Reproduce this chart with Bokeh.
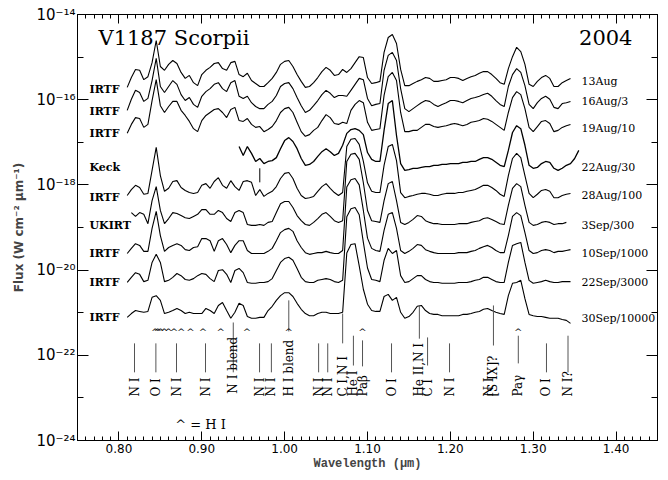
import math
import numpy as np
from bokeh.plotting import figure
from bokeh.models import (Range1d, FixedTicker, LinearAxis, LogAxis, CustomJSTickFormatter,
                          PrintfTickFormatter, Label)
from bokeh.core.properties import value
from bokeh.embed import file_html
from bokeh.resources import INLINE

nan = float("nan")

# ---------------- data ----------------
# sampling grid of the spectra (micron)
wavelength_um = np.round(0.810 + 0.005 * np.arange(110), 3)   # 0.810 ... 1.355

# log10 of the plotted (scaled) flux, W cm^-2 um^-1
log_flux_13aug = [
    -15.71, -15.48, -15.29, -15.31, -15.53, -15.46, -15.13, -14.61, -15.22, -15.31,
    -15.17, -15.08, -15.15, -15.36, -15.50, -15.43, -15.60, -15.67, -15.41, -15.31,
    -15.24, -15.15, -15.13, -15.27, -15.31, -15.13, -15.10, -15.41, -15.46, -15.38,
    -15.55, -15.62, -15.69, -15.69, -15.60, -15.50, -15.36, -15.17, -15.10, -15.08,
    -15.22, -15.41, -15.57, -15.71, -15.69, -15.60, -15.48, -15.34, -15.24, -15.31,
    -15.43, -15.41, -15.29, -15.36, -15.27, -15.13, -14.99, -15.01, -15.48, -15.62,
    -15.60, -15.57, -14.89, -14.54, -14.47, -14.68, -15.29, -15.67, -15.67, -15.62,
    -15.57, -15.53, -15.48, -15.50, -15.57, -15.57, -15.55, -15.53, -15.48, -15.48,
    -15.50, -15.55, -15.50, -15.46, -15.43, -15.38, -15.34, -15.34, -15.41, -15.50,
    -15.60, -15.64, -15.27, -14.99, -14.77, -14.87, -15.17, -15.64, -15.69, -15.57,
    -15.48, -15.43, -15.50, -15.69, -15.69, -15.60, -15.55, -15.50, nan, nan]

log_flux_16aug_div3 = [
    -16.25, -15.99, -15.78, -15.83, -16.04, -15.97, -15.55, -15.03, -15.69, -15.83,
    -15.69, -15.55, -15.64, -15.88, -16.02, -15.95, -16.11, -16.18, -15.92, -15.81,
    -15.74, -15.64, -15.60, -15.74, -15.81, -15.60, -15.55, -15.92, -15.97, -15.92,
    -16.07, -16.16, -16.21, -16.21, -16.11, -16.04, -15.90, -15.69, -15.62, -15.60,
    -15.74, -15.95, -16.14, -16.30, -16.25, -16.14, -16.02, -15.88, -15.78, -15.85,
    -15.95, -15.90, -15.90, -15.92, -15.78, -15.64, -15.50, -15.53, -15.97, -16.14,
    -16.11, -16.09, -15.31, -14.96, -14.89, -15.08, -15.74, -16.21, -16.28, -16.21,
    -16.14, -16.07, -16.02, -16.04, -16.11, -16.16, -16.11, -16.07, -16.02, -16.02,
    -16.04, -16.07, -16.02, -15.97, -15.95, -15.92, -15.88, -15.85, -15.92, -16.02,
    -16.11, -16.16, -15.69, -15.41, -15.27, -15.36, -15.67, -16.11, -16.21, -16.07,
    -15.97, -15.92, -15.99, -16.18, -16.21, -16.09, -16.07, -16.04, nan, nan]

log_flux_19aug_div10 = [
    -16.79, -16.58, -16.42, -16.44, -16.65, -16.58, -16.02, -15.53, -16.14, -16.30,
    -16.16, -16.04, -16.04, -16.25, -16.37, -16.51, -16.68, -16.75, -16.49, -16.37,
    -16.30, -16.23, -16.21, -16.30, -16.42, -16.23, -16.18, -16.49, -16.51, -16.44,
    -16.58, -16.65, -16.63, -16.75, -16.70, -16.63, -16.49, -16.30, -16.21, -16.18,
    -16.30, -16.53, -16.75, -16.86, -16.82, -16.72, -16.65, -16.49, -16.35, -16.42,
    -16.56, -16.58, -16.53, -16.56, -16.25, -16.11, -16.02, -16.07, -16.53, -16.72,
    -16.70, -16.68, -15.90, -15.46, -15.36, -15.55, -16.30, -16.75, -16.75, -16.72,
    -16.72, -16.65, -16.58, -16.58, -16.63, -16.65, -16.63, -16.61, -16.58, -16.56,
    -16.58, -16.61, -16.58, -16.53, -16.51, -16.49, -16.44, -16.46, -16.51, -16.58,
    -16.65, -16.72, -16.30, -15.95, -15.81, -15.88, -16.21, -16.65, -16.75, -16.63,
    -16.51, -16.49, -16.56, -16.75, -16.72, -16.65, -16.61, -16.58, nan, nan]

log_flux_22aug_div30 = [
    nan, nan, nan, nan, nan, nan, nan, nan, nan, nan,
    nan, nan, nan, nan, nan, nan, nan, nan, nan, nan,
    nan, nan, nan, nan, nan, nan, nan, -17.10, -17.31, -17.10,
    -17.26, -17.45, -17.38, -17.50, -17.45, -17.43, -17.36, -17.15, -16.96, -16.89,
    -16.98, -17.15, -17.38, -17.54, -17.52, -17.45, -17.33, -17.22, -17.15, -17.22,
    -17.31, -17.26, -17.07, -16.79, -16.70, -16.68, -16.72, -16.82, -17.24, -17.40,
    -17.45, -17.45, -16.72, -16.09, -16.02, -16.84, -17.50, -17.66, -17.64, -17.61,
    -17.61, -17.59, -17.57, -17.57, -17.54, -17.54, -17.52, -17.52, -17.50, -17.50,
    -17.50, -17.47, -17.47, -17.45, -17.45, -17.40, -17.36, -17.36, -17.40, -17.47,
    -17.54, -17.57, -17.19, -16.77, -16.61, -16.68, -17.07, -17.54, -17.61, -17.59,
    -17.50, -17.45, -17.47, -17.61, -17.66, -17.61, -17.54, -17.50, -17.38, -17.19]

log_flux_28aug_div100 = [
    -18.25, -18.11, -18.01, -18.06, -18.22, -18.20, -17.66, -17.12, -17.78, -18.15,
    -18.08, -17.92, -17.90, -18.06, -18.13, -18.18, -18.20, -18.18, -18.01, -17.97,
    -18.08, -17.92, -17.83, -18.01, -18.08, -17.90, -18.04, -18.13, -17.92, -17.90,
    -17.94, -18.25, -18.11, -18.27, -18.20, -18.15, -18.04, -17.85, -17.73, -17.71,
    -17.85, -18.08, -18.25, -18.32, -18.30, -18.27, -18.15, -18.04, -17.97, -18.08,
    -18.18, -18.25, -18.18, -17.10, -16.93, -16.91, -17.05, -17.45, -17.95, -18.15,
    -18.18, -18.18, -17.54, -17.10, -17.05, -17.43, -18.18, -18.30, -18.27, -18.25,
    -18.22, -18.20, -18.20, -18.22, -18.25, -18.25, -18.22, -18.20, -18.20, -18.20,
    -18.18, -18.18, -18.15, -18.13, -18.11, -18.06, -18.01, -18.01, -18.06, -18.13,
    -18.22, -18.27, -17.78, -17.38, -17.26, -17.36, -17.78, -18.20, -18.30, -18.22,
    -18.13, -18.11, -18.15, -18.30, -18.30, -18.25, -18.22, -18.20, nan, nan]

log_flux_3sep_div300 = [
    nan, -18.65, -18.74, -18.65, -18.69, -18.91, -18.37, -18.04, -18.60, -18.91,
    -18.79, -18.65, -18.67, -18.72, -18.77, -18.79, -18.74, -18.69, -18.58, -18.58,
    -18.69, -18.69, -18.60, -18.65, -18.79, -18.86, -18.65, -18.60, -18.65, -18.93,
    -18.95, -18.95, -18.93, -18.95, -18.88, -18.86, -18.65, -18.44, -18.39, -18.39,
    -18.53, -18.72, -18.84, -18.93, -18.95, -18.88, -18.79, -18.69, -18.65, -18.74,
    -18.84, -18.88, -18.84, -17.45, -17.28, -17.26, -17.40, -17.95, -18.60, -18.84,
    -18.86, -18.88, -18.37, -17.97, -17.92, -18.37, -18.88, -18.93, -18.88, -18.81,
    -18.72, -18.74, -18.84, -18.88, -18.91, -18.91, -18.93, -18.93, -18.93, -18.93,
    -18.91, -18.91, -18.91, -18.88, -18.86, -18.84, -18.79, -18.77, -18.81, -18.86,
    -18.91, -18.93, -18.48, -18.08, -17.97, -18.04, -18.48, -18.88, -18.95, -18.93,
    -18.88, -18.86, -18.88, -18.93, -18.91, -18.91, -18.88, nan, nan, nan]

log_flux_10sep_div1000 = [
    -19.61, -19.49, -19.38, -19.42, -19.56, -19.56, -19.02, -18.62, -19.19, -19.56,
    -19.47, -19.42, -19.38, -19.42, -19.52, -19.54, -19.47, -19.45, -19.26, -19.26,
    -19.31, -19.56, -19.31, -19.26, -19.40, -19.59, -19.42, -19.31, -19.31, -19.54,
    -19.61, -19.61, -19.61, -19.61, -19.56, -19.49, -19.31, -19.12, -19.05, -19.02,
    -19.09, -19.31, -19.47, -19.59, -19.63, -19.61, -19.59, -19.59, -19.56, -19.59,
    -19.61, -19.61, -19.54, -18.05, -17.88, -17.85, -18.00, -18.60, -19.25, -19.49,
    -19.54, -19.56, -19.07, -18.69, -18.65, -19.02, -19.54, -19.61, -19.56, -19.49,
    -19.40, -19.42, -19.52, -19.56, -19.59, -19.61, -19.61, -19.61, -19.61, -19.61,
    -19.59, -19.59, -19.59, -19.56, -19.54, -19.49, -19.45, -19.42, -19.47, -19.54,
    -19.59, -19.59, -19.19, -18.74, -18.65, -18.72, -19.12, -19.54, -19.61, -19.59,
    -19.54, -19.52, -19.54, -19.59, -19.56, -19.56, -19.54, -19.52, nan, nan]

log_flux_22sep_div3000 = [
    -20.29, -20.17, -20.06, -20.10, -20.27, -20.24, -19.82, -19.63, -19.82, -20.27,
    -20.24, -20.17, -20.08, -20.13, -20.22, -20.24, -20.20, -20.13, -20.08, -20.10,
    -20.20, -20.27, -20.01, -19.99, -20.10, -20.29, -20.01, -19.96, -20.06, -20.29,
    -20.31, -20.31, -20.29, -20.29, -20.27, -20.20, -20.01, -19.82, -19.73, -19.70,
    -19.77, -19.96, -20.17, -20.27, -20.29, -20.29, -20.24, -20.22, -20.20, -20.22,
    -20.27, -20.29, -20.24, -18.75, -18.56, -18.53, -18.70, -19.35, -19.95, -20.22,
    -20.24, -20.27, -19.77, -19.49, -19.61, -19.54, -20.13, -20.29, -20.27, -20.20,
    -20.13, -20.13, -20.22, -20.27, -20.29, -20.29, -20.31, -20.31, -20.31, -20.31,
    -20.29, -20.29, -20.29, -20.27, -20.24, -20.22, -20.17, -20.17, -20.22, -20.27,
    -20.29, -20.29, -19.82, -19.42, -19.38, -19.35, -19.82, -20.24, -20.31, -20.29,
    -20.27, -20.24, -20.27, -20.29, -20.29, -20.27, -20.27, -20.27, nan, nan]

log_flux_30sep_div10000 = [
    -21.11, -21.02, -20.95, -20.97, -20.99, -20.97, -20.64, -20.60, -20.71, -21.02,
    -20.99, -20.95, -20.90, -20.95, -21.02, -20.99, -21.02, -21.02, -21.02, -20.90,
    -20.95, -21.02, -20.83, -20.76, -20.95, -21.13, -20.99, -20.78, -20.83, -21.09,
    -21.13, -21.13, -21.11, -21.11, -20.95, -20.85, -20.71, -20.60, -20.53, -20.53,
    -20.62, -20.78, -20.92, -21.02, -21.07, -21.07, -21.02, -20.99, -20.99, -21.02,
    -21.02, -21.02, -20.99, -19.60, -19.40, -19.38, -19.90, -20.45, -20.80, -20.95,
    -20.97, -20.97, -20.62, -20.57, -20.71, -20.64, -20.99, -21.13, -21.09, -20.99,
    -20.85, -20.83, -20.95, -21.02, -21.04, -21.04, -21.07, -21.07, -21.07, -21.07,
    -21.07, -21.04, -21.04, -21.02, -20.99, -20.97, -20.92, -20.90, -20.95, -20.99,
    -21.02, -21.04, -20.60, -20.31, -20.29, -20.24, -20.67, -21.04, -21.07, -21.09,
    -21.09, -21.11, -21.13, -21.13, -21.13, -21.16, -21.18, -21.25, nan, nan]

spectra = [log_flux_13aug, log_flux_16aug_div3, log_flux_19aug_div10, log_flux_22aug_div30,
           log_flux_28aug_div100, log_flux_3sep_div300, log_flux_10sep_div1000,
           log_flux_22sep_div3000, log_flux_30sep_div10000]
dates = ["13Aug", "16Aug/3", "19Aug/10", "22Aug/30", "28Aug/100", "3Sep/300",
         "10Sep/1000", "22Sep/3000", "30Sep/10000"]
telescopes = ["IRTF", "IRTF", "IRTF", "Keck", "IRTF", "UKIRT", "IRTF", "IRTF", "IRTF"]

# line identifications
line_wl = [0.8188, 0.8446, 0.8695, 0.9045, 0.938, 0.9697, 0.984, 1.005, 1.041, 1.052,
           1.070, 1.083, 1.094, 1.129, 1.1626, 1.1725, 1.199, 1.2461, 1.252, 1.282,
           1.316, 1.342]
line_names = ["N I", "O I", "N I", "N I", "N I blend", "N I", "N I", "H I blend", "N I", "N I",
              "C I,N I", "He I", "Paβ", "O I", "He II,N I", "C I", "N I", "N I", "[S IX]?", "Paγ",
              "O I", "N I?"]
# hydrogen (Paschen) lines marked with ^
h_lines_wl = [0.8437, 0.8467, 0.8502, 0.8545, 0.8598, 0.8665, 0.8750, 0.8863, 0.9015,
              0.9229, 0.9546, 1.0049, 1.0938, 1.2818]

# ---------------- layout of annotations (log10 flux units) ----------------
tick_top = [-21.72, -21.72, -21.72, -21.72, -21.23, -21.72, -21.72, -20.71, -21.72, -21.72,
            -21.02, -21.54, -21.65, -21.72, -20.83, -21.58, -21.72, nan, -20.83, -21.54,
            -21.72, -21.54]
tick_bot = [-22.40, -22.40, -22.40, -22.40, -22.40, -22.40, -22.40, -21.44, -22.40, -22.40,
            -21.72, -22.24, -22.26, -22.40, -21.61, -22.24, -22.40, nan, -21.77, -22.19,
            -22.40, -22.40]
label_base = -22.97
tel_label_y = [-15.76, -16.28, -16.79, -17.59, -18.30, -18.95, -19.61, -20.29, -21.11]
date_label_y = [-15.57, -16.04, -16.68, -17.59, -18.25, -18.95, -19.61, -20.29, -21.14]

# ---------------- figure ----------------
p = figure(width=668, height=480, x_range=Range1d(0.75, 1.45), y_range=Range1d(1e-24, 1e-14),
           y_axis_type="log", output_backend="svg", toolbar_location=None,
           min_border_left=77, min_border_right=11, min_border_top=14, min_border_bottom=40)
p.grid.visible = False
p.outline_line_color = "black"
p.outline_line_width = 1
p.background_fill_color = "white"
p.border_fill_color = "white"

xticker = FixedTicker(ticks=[0.8, 0.9, 1.0, 1.1, 1.2, 1.3, 1.4],
                      minor_ticks=list(np.round(0.75 + 0.01 * np.arange(71), 2)))
yticker = FixedTicker(ticks=[10.0 ** e for e in range(-24, -13, 2)],
                      minor_ticks=[10.0 ** e for e in range(-23, -14, 2)])

xa = p.xaxis[0]
xa.ticker = xticker
xa.formatter = PrintfTickFormatter(format="%.2f")
xa.major_tick_in = 9
xa.major_tick_out = 0
xa.minor_tick_in = 4
xa.minor_tick_out = 0
xa.major_label_standoff = 3
xa.major_label_text_font = "DejaVu Sans"
xa.major_label_text_font_size = "12px"
xa.major_label_text_color = "black"
xa.axis_label = "Wavelength (μm)"
xa.axis_label_text_font = "Liberation Mono"
xa.axis_label_text_font_size = "12px"
xa.axis_label_text_font_style = "bold"
xa.axis_label_standoff = 1
xa.axis_line_color = "black"

sup_code = """
const m = {"0":"⁰","1":"¹","2":"²","3":"³","4":"⁴","5":"⁵","6":"⁶","7":"⁷","8":"⁸","9":"⁹","-":"⁻"};
const e = Math.round(Math.log10(tick));
return "10" + String(e).split("").map(c => m[c]).join("");
"""
ya = p.yaxis[0]
ya.ticker = yticker
ya.formatter = CustomJSTickFormatter(code=sup_code)
ya.major_tick_in = 11
ya.major_tick_out = 0
ya.minor_tick_in = 6
ya.minor_tick_out = 0
ya.major_label_standoff = 2
ya.major_label_text_font = "DejaVu Sans"
ya.major_label_text_font_size = "15px"
ya.major_label_text_color = "black"
ya.axis_label = "Flux (W cm⁻² μm⁻¹)"
ya.axis_label_text_font = "DejaVu Sans"
ya.axis_label_text_font_size = "12px"
ya.axis_label_text_font_style = "bold"
ya.axis_label_standoff = 7
ya.axis_line_color = "black"

empty = CustomJSTickFormatter(code="return '';")
top_axis = LinearAxis(ticker=xticker, formatter=empty, major_tick_in=9, major_tick_out=0,
                      minor_tick_in=4, minor_tick_out=0, major_label_standoff=0,
                      major_label_text_font_size="0px", axis_line_color="black")
p.add_layout(top_axis, "above")
right_axis = LogAxis(ticker=yticker, formatter=empty, major_tick_in=11, major_tick_out=0,
                     minor_tick_in=6, minor_tick_out=0, major_label_standoff=0,
                     major_label_text_font_size="0px", axis_line_color="black")
p.add_layout(right_axis, "right")

# spectra
for i, s in enumerate(spectra):
    flux = np.power(10.0, np.array(s, dtype=float))
    p.line(wavelength_um, flux, line_color="black", line_width=1.3 if i == 3 else 1.1)

# small marker under the Keck spectrum
p.segment(x0=[0.970], y0=[10 ** -17.61], x1=[0.970], y1=[10 ** -17.94],
          line_color="black", line_width=1)

# identification ticks
p.segment(x0=line_wl, y0=[10 ** v for v in tick_top], x1=line_wl, y1=[10 ** v for v in tick_bot],
          line_color="#555555", line_width=1)

normal_idx = [i for i, n in enumerate(line_names) if n != "N I blend"]
p.text(x=[line_wl[i] for i in normal_idx], y=[10 ** label_base] * len(normal_idx),
       text=[line_names[i] for i in normal_idx], angle=math.pi / 2,
       text_align="left", text_baseline="alphabetic",
       text_font=value("DejaVu Serif"), text_font_size="12px", text_color="black")
blend_idx = line_names.index("N I blend")
p.text(x=[line_wl[blend_idx]], y=[10 ** -22.90], text=["N I blend"], angle=math.pi / 2,
       text_align="left", text_baseline="middle",
       text_font=value("DejaVu Serif"), text_font_size="12px", text_color="black")

# H I markers
p.text(x=h_lines_wl, y=[10 ** -21.44] * len(h_lines_wl), text=["^"] * len(h_lines_wl),
       text_align="center", text_baseline="middle",
       text_font=value("DejaVu Serif"), text_font_size="10px", text_color="black")
p.text(x=[0.8984], y=[10 ** -23.62], text=["^ = H I"], text_align="center", text_baseline="middle",
       text_font=value("DejaVu Serif"), text_font_size="13px", text_color="black")

# telescope labels (left)
p.text(x=[0.7645] * 9, y=[10 ** v for v in tel_label_y], text=telescopes,
       text_align="left", text_baseline="middle",
       text_font=value("DejaVu Serif"), text_font_size="11px", text_font_style="bold",
       text_color="black")
# dates / scale factors (right)
for d, ly in zip(dates, date_label_y):
    p.add_layout(Label(x=1.3583, y=10 ** ly, text=d, text_align="left", text_baseline="middle",
                       text_font="DejaVu Serif", text_font_size="11px", text_color="black"))

# title and year
p.text(x=[0.7753], y=[10 ** -14.54], text=["V1187 Scorpii"], text_align="left",
       text_baseline="alphabetic", text_font=value("DejaVu Serif"), text_font_size="21px",
       text_color="black")
p.text(x=[1.4198], y=[10 ** -14.54], text=["2004"], text_align="right",
       text_baseline="alphabetic", text_font=value("DejaVu Serif"), text_font_size="21px",
       text_color="black")

open("out.html", "w").write(file_html(p, INLINE))
